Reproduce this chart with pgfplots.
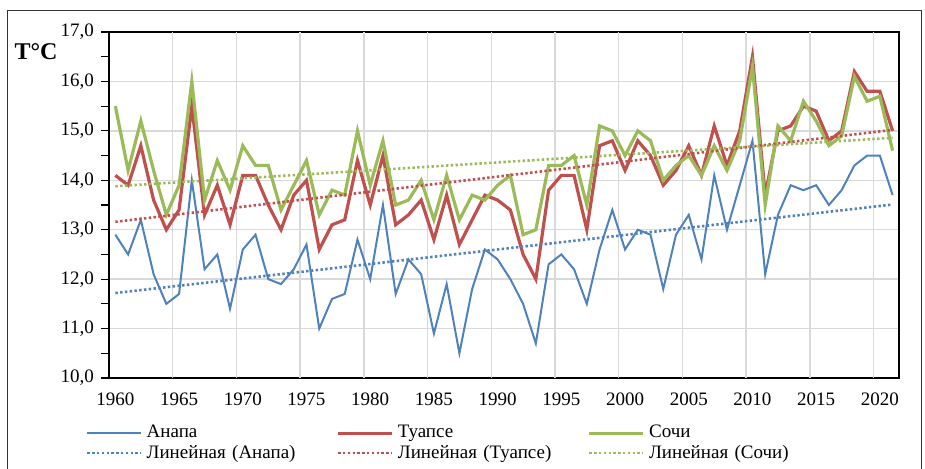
\documentclass[border=0pt]{standalone}
\usepackage{pgfplots}
\pgfplotsset{compat=1.18}
\usepackage{pgfplotstable}
\usepackage{fontspec}
\setmainfont{Liberation Serif}
\definecolor{cA}{HTML}{4F81BD}
\definecolor{cT}{HTML}{C0504D}
\definecolor{cS}{HTML}{9BBB59}
\definecolor{gridc}{HTML}{D9D9D9}
\pgfplotstableread{
year A T S
1960 12.9 14.1 15.5
1961 12.5 13.9 14.2
1962 13.2 14.7 15.2
1963 12.1 13.6 14.2
1964 11.5 13.0 13.3
1965 11.7 13.4 13.9
1966 14.0 15.5 16.0
1967 12.2 13.3 13.6
1968 12.5 13.9 14.4
1969 11.4 13.1 13.8
1970 12.6 14.1 14.7
1971 12.9 14.1 14.3
1972 12.0 13.5 14.3
1973 11.9 13.0 13.4
1974 12.2 13.7 13.9
1975 12.7 14.0 14.4
1976 11.0 12.6 13.3
1977 11.6 13.1 13.8
1978 11.7 13.2 13.7
1979 12.8 14.4 15.0
1980 12.0 13.5 13.9
1981 13.5 14.5 14.8
1982 11.7 13.1 13.5
1983 12.4 13.3 13.6
1984 12.1 13.6 14.0
1985 10.9 12.8 13.2
1986 11.9 13.7 14.1
1987 10.5 12.7 13.2
1988 11.8 13.2 13.7
1989 12.6 13.7 13.6
1990 12.4 13.6 13.9
1991 12.0 13.4 14.1
1992 11.5 12.5 12.9
1993 10.7 12.0 13.0
1994 12.3 13.8 14.3
1995 12.5 14.1 14.3
1996 12.2 14.1 14.5
1997 11.5 13.0 13.5
1998 12.6 14.7 15.1
1999 13.4 14.8 15.0
2000 12.6 14.2 14.5
2001 13.0 14.8 15.0
2002 12.9 14.5 14.8
2003 11.8 13.9 14.0
2004 12.9 14.2 14.3
2005 13.3 14.7 14.5
2006 12.4 14.1 14.1
2007 14.1 15.1 14.7
2008 13.0 14.3 14.2
2009 13.9 15.0 14.8
2010 14.8 16.5 16.3
2011 12.1 13.7 13.5
2012 13.3 15.0 15.1
2013 13.9 15.1 14.8
2014 13.8 15.5 15.6
2015 13.9 15.4 15.2
2016 13.5 14.8 14.7
2017 13.8 15.0 14.9
2018 14.3 16.2 16.1
2019 14.5 15.8 15.6
2020 14.5 15.8 15.7
2021 13.7 15.0 14.6
}\data
\begin{document}
\begin{tikzpicture}
\useasboundingbox (0,0) rectangle (462.5pt,234pt);
\draw[line width=0.5pt, black!80] (3.5pt,229pt) -- (460.5pt,229pt) -- (460.5pt,-5pt);
\draw[line width=0.5pt, black!80] (3.5pt,229pt) -- (3.5pt,-5pt);
\node[font=\fontsize{12}{14}\selectfont\bfseries] at (18pt,208pt) {T°C};
\begin{axis}[
  at={(54.5pt,45pt)}, anchor=south west,
  scale only axis, width=395pt, height=173pt,
  xmin=1959.5, xmax=2021.5, ymin=10, ymax=17,
  axis line style={black, line width=1pt},
  font=\fontsize{9.5}{11}\selectfont,
  /pgf/number format/assume math mode=true,
  xtick pos=bottom, ytick pos=left,
  xtick={1960,1965,...,2020},
  x tick label style={/pgf/number format/1000 sep={}, yshift=0pt},
  major x tick style={draw=none},
  extra x ticks={1964.5,1969.5,...,2019.5},
  extra x tick labels={},
  extra x tick style={grid=major, tick align=outside, major tick length=3pt, tick style={black, line width=0.6pt}},
  ytick={10,11,...,17},
  minor ytick={10.5,11.5,...,16.5},
  ymajorgrids,
  tick align=outside,
  major tick length=4pt, minor tick length=4pt,
  y tick style={black, line width=0.6pt},
  grid style={gridc, line width=0.75pt},
  y tick label style={/pgf/number format/fixed, /pgf/number format/fixed zerofill, /pgf/number format/precision=1, /pgf/number format/use comma, xshift=0pt},
  legend columns=3,
  legend style={at={(axis cs:1957.2,10)}, anchor=north west, yshift=-20.5pt, draw=none, fill=none,
    font=\fontsize{9.5}{11}\selectfont, row sep=0pt,
    nodes={text width=93pt, align=left, inner xsep=2pt, inner ysep=1pt}},
  legend cell align=left,
  legend image code/.code={\draw[#1] (0pt,0pt) -- (27pt,0pt);},
]
\addplot[cA, line width=1pt] table[x=year,y=A] {\data};
\addlegendentry{Анапа}
\addplot[cT, line width=1.6pt] table[x=year,y=T] {\data};
\addlegendentry{Туапсе}
\addplot[cS, line width=1.6pt] table[x=year,y=S] {\data};
\addlegendentry{Сочи}
\addplot[cA, line width=1.3pt, dash pattern=on 1.2pt off 1.2pt] coordinates {(1960,11.72) (2021,13.51)};
\addlegendentry{Линейная (Анапа)}
\addplot[cT, line width=1.3pt, dash pattern=on 1.2pt off 1.2pt] coordinates {(1960,13.16) (2021,15.02)};
\addlegendentry{Линейная (Туапсе)}
\addplot[cS, line width=1.3pt, dash pattern=on 1.2pt off 1.2pt] coordinates {(1960,13.88) (2021,14.86)};
\addlegendentry{Линейная (Сочи)}
\end{axis}
\end{tikzpicture}
\end{document}
